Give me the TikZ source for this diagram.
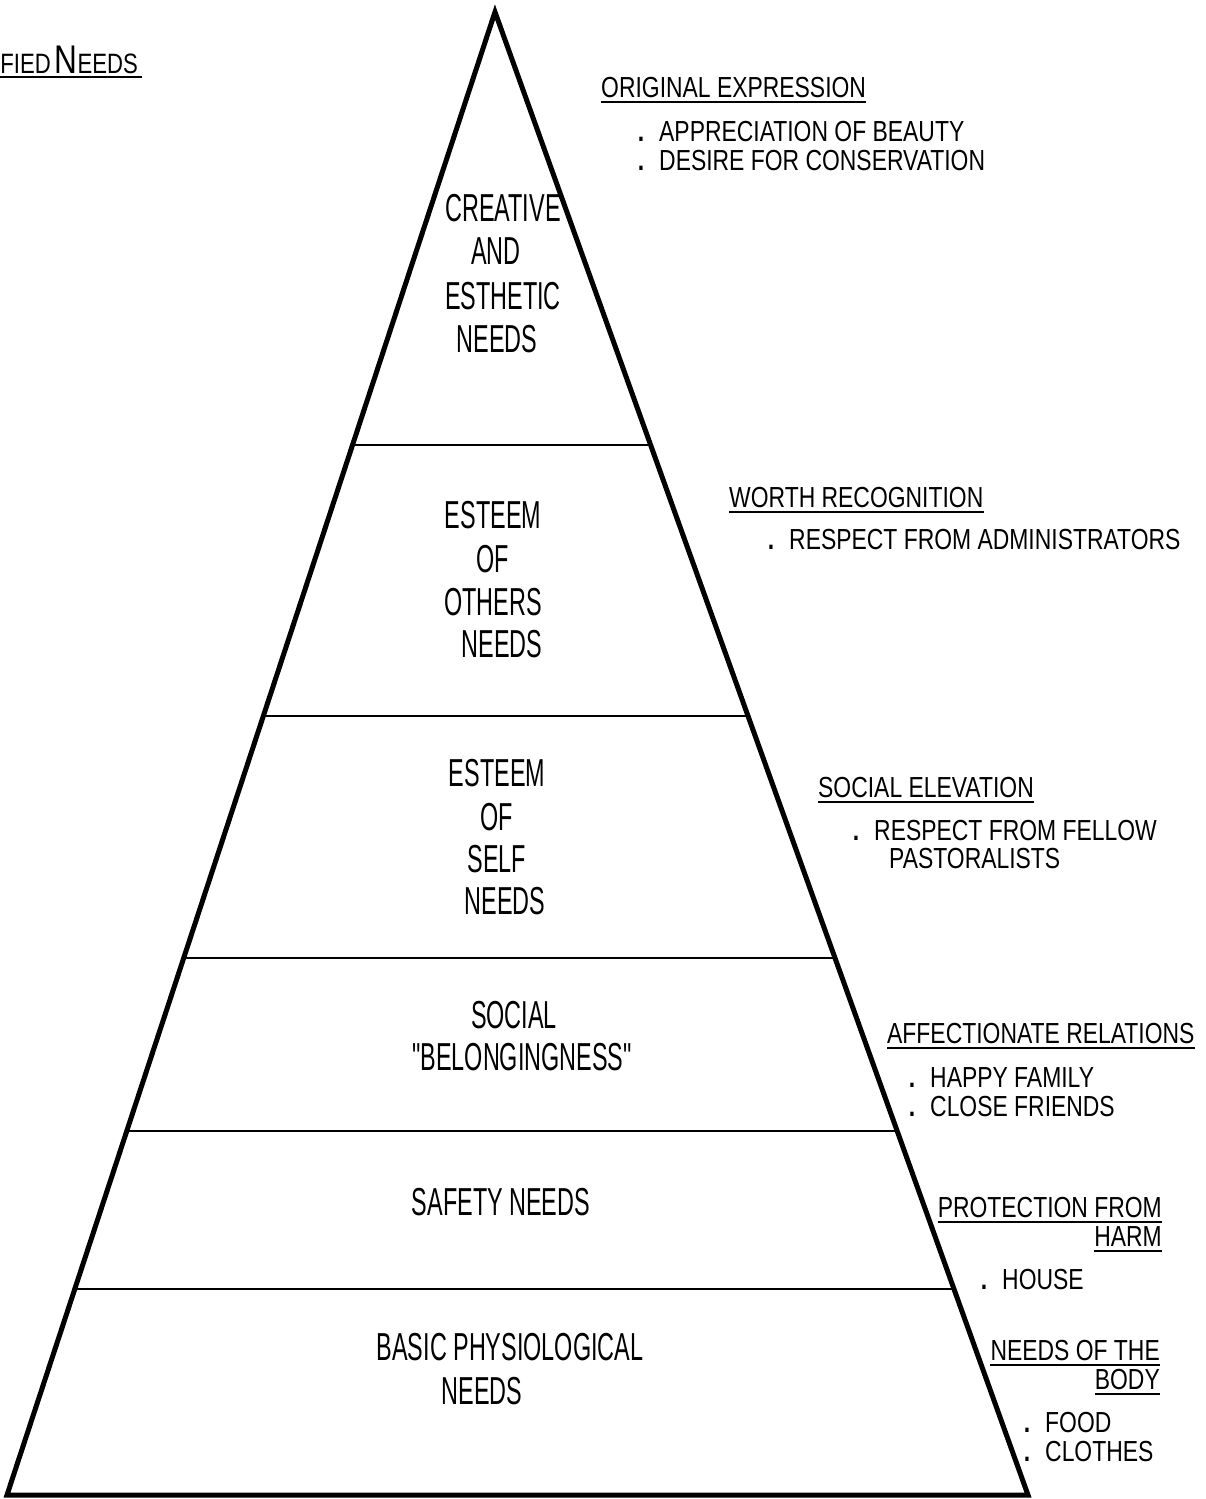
\documentclass[tikz,border=0pt]{standalone}
\usepackage{fontspec}
\setmainfont{Liberation Sans}
\newfontfamily\innerfont[FakeStretch=0.6]{Liberation Sans}
\newfontfamily\sidefont[FakeStretch=0.79]{Liberation Sans}
\usetikzlibrary{calc}
\newcommand\ulnode[1]{\draw[ulline] ([yshift=-5pt]#1.base west) -- ([yshift=-5pt]#1.base east);}
\newcommand\bul{\llap{\textbf{.}\hspace{15pt}}}
\begin{document}
\begin{tikzpicture}[x=1pt,y=-1pt,
  lvl/.style={font=\innerfont\fontsize{39}{39}\selectfont, anchor=base, inner sep=0pt},
  side/.style={font=\sidefont\fontsize{29}{29}\selectfont, anchor=base west, inner sep=0pt},
  sider/.style={side, anchor=base east},
  edge/.style={line width=5pt, line join=miter},
  tier/.style={line width=2pt},
  ulline/.style={line width=1.6pt}]
\useasboundingbox (0,0) rectangle (1206,1499);
% pyramid
\coordinate (A) at (495,12);
\coordinate (BL) at (7,1495);
\coordinate (BR) at (1028,1495);
\draw[edge] (BL) -- (A) -- (BR) -- cycle;
\foreach \t/\n in {0.29198/1,0.47471/2,0.63790/3,0.75455/4,0.86110/5}{
  \coordinate (L\n) at ($(A)!\t!(BL)$);
  \coordinate (R\n) at ($(A)!\t!(BR)$);
  \draw[tier] (L\n) -- (R\n);
}
% inner labels
\node[lvl] (c1) at (503,221) {CREATIVE};
\node[lvl] (c2) at (496,264) {AND};
\node[lvl] (c3) at (503,309) {ESTHETIC};
\node[lvl] (c4) at (497,352) {NEEDS};
\node[lvl] (o1) at (493,528) {ESTEEM};
\node[lvl] (o2) at (493,572) {OF};
\node[lvl] (o3) at (493,615) {OTHERS};
\node[lvl] (o4) at (502,657) {NEEDS};
\node[lvl] (s1) at (497,786) {ESTEEM};
\node[lvl] (s2) at (497,830) {OF};
\node[lvl] (s3) at (497,872) {SELF};
\node[lvl] (s4) at (505,914) {NEEDS};
\node[lvl] (b1) at (514,1028) {SOCIAL};
\node[lvl] (b2) at (522,1070) {"BELONGINGNESS"};
\node[lvl] (sf) at (501,1215) {SAFETY NEEDS};
\node[lvl] (p1) at (510,1360) {BASIC PHYSIOLOGICAL};
\node[lvl] (p2) at (482,1404) {NEEDS};
% side labels
\node[side] (h1) at (601,97) {ORIGINAL EXPRESSION}; \ulnode{h1}
\node[side] (h1a) at (659,141) {\bul APPRECIATION OF BEAUTY};
\node[side] (h1b) at (659,170) {\bul DESIRE FOR CONSERVATION};
\node[side] (h2) at (729,507) {WORTH RECOGNITION}; \ulnode{h2}
\node[side] (h2a) at (789,549) {\bul RESPECT FROM ADMINISTRATORS};
\node[side] (h3) at (818,797) {SOCIAL ELEVATION}; \ulnode{h3}
\node[side] (h3a) at (874,840) {\bul RESPECT FROM FELLOW};
\node[side] (h3b) at (889,868) {PASTORALISTS};
\node[side] (h4) at (887,1043) {AFFECTIONATE RELATIONS}; \ulnode{h4}
\node[side] (h4a) at (930,1087) {\bul HAPPY FAMILY};
\node[side] (h4b) at (930,1116) {\bul CLOSE FRIENDS};
\node[sider] (h5) at (1162,1217) {PROTECTION FROM}; \ulnode{h5}
\node[sider] (h5x) at (1162,1246) {HARM}; \ulnode{h5x}
\node[side] (h5a) at (1002,1289) {\bul HOUSE};
\node[sider] (h6) at (1160,1360) {NEEDS OF THE}; \ulnode{h6}
\node[sider] (h6x) at (1160,1389) {BODY}; \ulnode{h6x}
\node[side] (h6a) at (1045,1432) {\bul FOOD};
\node[side] (h6b) at (1045,1461) {\bul CLOTHES};
% top-left title fragment
\node[anchor=base east, inner sep=0pt, font=\sidefont] (tl) at (138,73)
  {\fontsize{28}{28}\selectfont FIED\hspace{4pt}\fontsize{40}{40}\selectfont N\fontsize{28}{28}\selectfont EEDS};
\draw[ulline] (0,77) -- (142,77);
\end{tikzpicture}
\end{document}
